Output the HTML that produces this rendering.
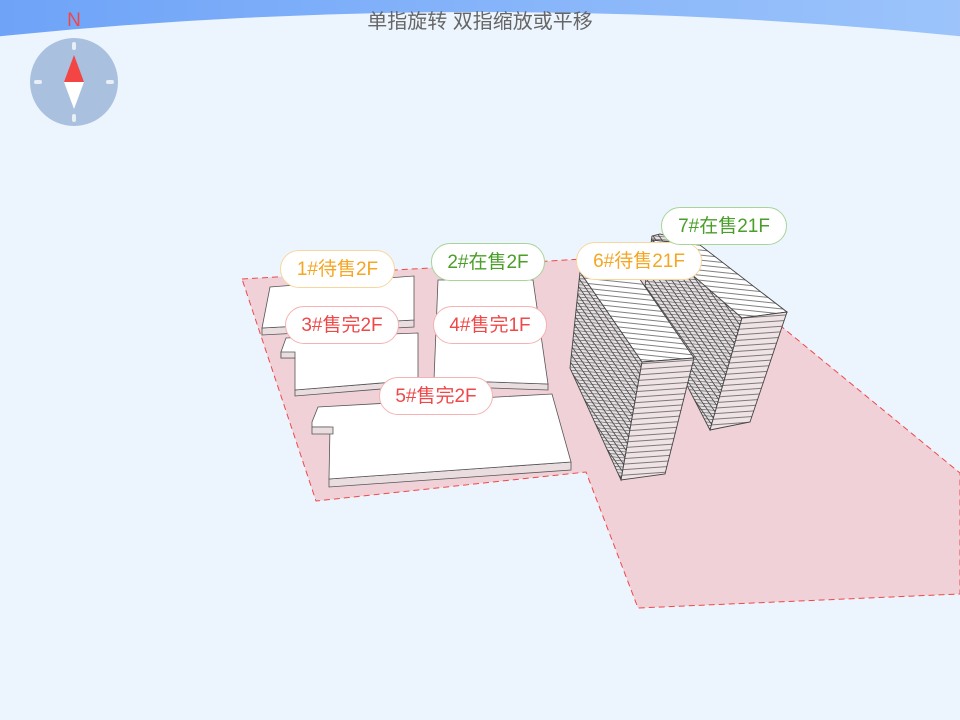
<!DOCTYPE html>
<html><head><meta charset="utf-8"><style>
html,body{margin:0;width:960px;height:720px;overflow:hidden;background:#ecf5fe;font-family:"Liberation Sans","Noto Sans CJK SC",sans-serif}
.lb{position:absolute;height:38px;line-height:38px;border-radius:19px;background:#fff;font-size:19px;text-align:center;box-sizing:border-box}
.o{color:#f5a623;border:1px solid #f8d79e}.g{color:#4a9e2a;border:1px solid #a8d49a}.r{color:#ee4848;border:1px solid #f6b2b2}
</style></head><body>
<svg width="960" height="720" style="position:absolute;left:0;top:0">
<defs>
<linearGradient id="hd" x1="0" x2="1"><stop offset="0" stop-color="#6ea3f8"/><stop offset="1" stop-color="#9cc4fb"/></linearGradient>
<pattern id="st" width="20" height="5.5" patternUnits="userSpaceOnUse" patternTransform="rotate(-4)"><rect width="20" height="5.5" fill="#f0e3e6"/><line x1="0" y1="0.5" x2="20" y2="0.5" stroke="#555" stroke-width="0.8"/></pattern>
<pattern id="st2" width="20" height="5" patternUnits="userSpaceOnUse" patternTransform="rotate(6)"><rect width="20" height="5" fill="#fff"/><line x1="0" y1="0.5" x2="20" y2="0.5" stroke="#555" stroke-width="0.7"/></pattern>
<pattern id="gr" width="4" height="5" patternUnits="userSpaceOnUse" patternTransform="rotate(55) skewX(-40)"><rect width="4" height="5" fill="#e6e0e2"/><line x1="0" y1="0.4" x2="4" y2="0.4" stroke="#444" stroke-width="0.9"/><line x1="0.4" y1="0" x2="0.4" y2="5" stroke="#555" stroke-width="0.8"/></pattern>
</defs>
<rect width="960" height="60" fill="url(#hd)"/>
<circle cx="480" cy="4778" r="4766" fill="#ecf5fe"/>
<polygon points="242,279 600,258 782,327 960,473 960,594 638,608 586,472 316,501" fill="#efd1d7" stroke="#f04848" stroke-width="1" stroke-dasharray="6,4"/>
<g stroke="#555" stroke-width="0.8">
<polygon points="262,328 414,320 414,327 262,335" fill="#e9dde0"/>
<polygon points="270,287 414,276 414,320 262,328" fill="#fff"/>
<polygon points="434,380 548,384 548,390 434,386" fill="#e9dde0"/>
<polygon points="438,280 533,280 548,384 434,380" fill="#fff"/>
<polygon points="295,390 418,380 418,386 295,396" fill="#e9dde0"/>
<polygon points="286,338 418,333 418,380 295,390 295,358 281,358 281,352 286,338" fill="#fff"/>
<polygon points="281,352 295,352 295,358 281,358" fill="#e9dde0"/>
<polygon points="329,479 571,462 571,470 329,487" fill="#e9dde0"/>
<polygon points="318,407 552,394 571,462 329,479 330,427 312,427 312,422 318,407" fill="#fff"/>
<polygon points="312,427 333,427 333,434 312,434" fill="#e9dde0"/>
</g>
<g stroke="#444" stroke-width="0.9">
<polygon points="652,236 660,234 700,245 742,318 710,430 643,300" fill="url(#gr)"/>
<polygon points="652,240 700,245 787,312 742,318" fill="url(#st2)"/>
<polygon points="742,318 787,312 750,422 710,430" fill="url(#st)"/>
<polygon points="580,272 642,362 621,480 570,368" fill="url(#gr)"/>
<polygon points="580,272 628,262 694,358 642,362" fill="url(#st2)"/>
<polygon points="642,362 694,358 665,474 621,480" fill="url(#st)"/>
</g>
<circle cx="74" cy="82" r="44" fill="#a9c1df"/>
<g stroke="#e8eef6" stroke-width="4" stroke-linecap="round">
<line x1="74" y1="44" x2="74" y2="48"/><line x1="74" y1="116" x2="74" y2="120"/>
<line x1="36" y1="82" x2="40" y2="82"/><line x1="108" y1="82" x2="112" y2="82"/></g>
<polygon points="74,55 84,82 64,82" fill="#f44545"/>
<polygon points="74,109 84,82 64,82" fill="#fff"/>
<text x="74" y="26" font-size="19" fill="#f44545" text-anchor="middle" font-family="Liberation Sans">N</text>
<text x="480" y="28" font-size="20" fill="#666" text-anchor="middle" font-family="Liberation Sans,Noto Sans CJK SC,sans-serif">单指旋转 双指缩放或平移</text>
</svg>
<div class="lb o" style="left:280px;top:250px;width:115px">1#待售2F</div>
<div class="lb g" style="left:431px;top:243px;width:114px">2#在售2F</div>
<div class="lb r" style="left:285px;top:306px;width:114px">3#售完2F</div>
<div class="lb r" style="left:433px;top:306px;width:114px">4#售完1F</div>
<div class="lb r" style="left:379px;top:377px;width:114px">5#售完2F</div>
<div class="lb o" style="left:576px;top:242px;width:126px">6#待售21F</div>
<div class="lb g" style="left:661px;top:207px;width:126px">7#在售21F</div>
</body></html>
